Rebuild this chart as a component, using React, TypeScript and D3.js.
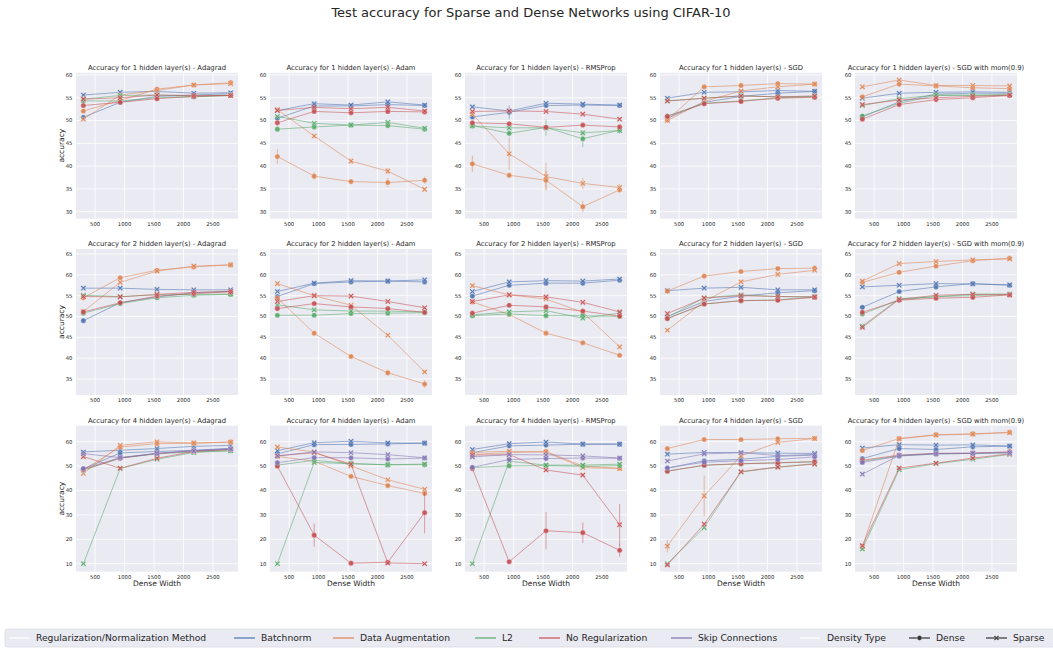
import React from "react";
import * as d3 from "d3";

// dense widths used on every panel
const WIDTHS = [300, 925, 1550, 2175, 2800];
const METHODS = ["Batchnorm", "Data Augmentation", "L2", "No Regularization", "Skip Connections"];
const PALETTE = ["#4c72b0", "#dd8452", "#55a868", "#c44e52", "#8172b3"];
const OPTIMIZERS = ["Adagrad", "Adam", "RMSProp", "SGD", "SGD with mom(0.9)"];
const LAYERS = [1, 2, 4];
const X_TICKS = [500, 1000, 1500, 2000, 2500];
const Y_TICKS = [
  [30, 35, 40, 45, 50, 55, 60],
  [35, 40, 45, 50, 55, 60, 65],
  [10, 20, 30, 40, 50, 60],
];

type Series = [string, "Dense" | "Sparse", number[], number[]?];

// ---- 1 hidden layer ----
const l1Adagrad: Series[] = [
  ["Batchnorm", "Dense", [50.7, 54.0, 55.3, 55.6, 55.9]],
  ["Batchnorm", "Sparse", [55.6, 56.2, 56.4, 56.0, 56.1]],
  ["Data Augmentation", "Dense", [52.1, 54.4, 56.9, 57.8, 58.3], [0.3, 0.3, 0.4, 0.3, 0.4]],
  ["Data Augmentation", "Sparse", [50.3, 55.6, 56.6, 57.8, 58.1]],
  ["L2", "Dense", [54.3, 54.3, 55.0, 55.2, 55.5]],
  ["L2", "Sparse", [54.7, 55.5, 55.6, 55.3, 55.6]],
  ["No Regularization", "Dense", [53.3, 54.0, 54.8, 55.3, 55.5]],
  ["No Regularization", "Sparse", [54.7, 55.0, 55.6, 55.5, 55.5]],
];
const l1Adam: Series[] = [
  ["Batchnorm", "Dense", [50.5, 53.2, 53.2, 53.5, 53.3]],
  ["Batchnorm", "Sparse", [52.2, 53.7, 53.4, 54.1, 53.4]],
  ["Data Augmentation", "Dense", [42.1, 37.8, 36.6, 36.4, 36.9], [1.6, 0.8, 0.5, 1.0, 0.8]],
  ["Data Augmentation", "Sparse", [52.4, 46.6, 41.1, 38.9, 34.9], [0.5, 0.5, 0.6, 0.7, 0.4]],
  ["L2", "Dense", [48.1, 48.6, 49.0, 48.9, 48.1]],
  ["L2", "Sparse", [50.9, 49.4, 49.0, 49.6, 48.3]],
  ["No Regularization", "Dense", [49.5, 52.0, 51.7, 52.0, 51.9]],
  ["No Regularization", "Sparse", [52.2, 52.9, 52.6, 52.9, 52.1]],
];
const l1RMSProp: Series[] = [
  ["Batchnorm", "Dense", [50.8, 51.8, 53.3, 53.4, 53.3], [0.3, 1.5, 0.3, 0.3, 0.3]],
  ["Batchnorm", "Sparse", [53.0, 52.1, 53.8, 53.6, 53.4]],
  ["Data Augmentation", "Dense", [40.5, 38.0, 36.9, 31.1, 34.8], [1.8, 0.7, 2.0, 1.2, 0.6]],
  ["Data Augmentation", "Sparse", [51.4, 42.7, 37.7, 36.2, 35.3], [0.5, 3.5, 3.0, 1.2, 0.8]],
  ["L2", "Dense", [48.9, 47.2, 48.5, 46.0, 47.9], [0.8, 0.7, 1.8, 1.8, 0.8]],
  ["L2", "Sparse", [48.8, 48.4, 48.4, 47.3, 47.8]],
  ["No Regularization", "Dense", [49.5, 49.3, 48.5, 49.0, 48.6]],
  ["No Regularization", "Sparse", [52.0, 52.1, 52.0, 51.4, 50.3]],
];
const l1SGD: Series[] = [
  ["Batchnorm", "Dense", [50.5, 54.0, 55.3, 56.0, 56.4]],
  ["Batchnorm", "Sparse", [54.9, 56.2, 56.3, 56.6, 56.4]],
  ["Data Augmentation", "Dense", [50.1, 57.4, 57.7, 58.1, 58.0]],
  ["Data Augmentation", "Sparse", [50.0, 54.2, 56.5, 57.4, 58.0]],
  ["L2", "Dense", [51.0, 53.8, 54.3, 55.0, 55.3]],
  ["L2", "Sparse", [54.3, 54.9, 55.4, 55.2, 55.2]],
  ["No Regularization", "Dense", [50.9, 53.7, 54.2, 54.9, 55.1]],
  ["No Regularization", "Sparse", [54.3, 54.9, 55.4, 55.2, 55.4]],
];
const l1SGDMom: Series[] = [
  ["Batchnorm", "Dense", [50.8, 54.1, 55.8, 56.0, 56.0]],
  ["Batchnorm", "Sparse", [54.9, 56.0, 56.2, 56.3, 56.2]],
  ["Data Augmentation", "Dense", [55.2, 58.0, 57.6, 57.2, 57.0]],
  ["Data Augmentation", "Sparse", [57.4, 58.9, 57.7, 57.7, 57.6]],
  ["L2", "Dense", [51.0, 53.8, 55.5, 55.6, 55.5]],
  ["L2", "Sparse", [53.3, 54.8, 55.6, 55.5, 55.8]],
  ["No Regularization", "Dense", [50.3, 53.5, 54.6, 55.0, 55.5]],
  ["No Regularization", "Sparse", [53.5, 54.5, 55.0, 55.3, 55.6]],
];

// ---- 2 hidden layers ----
const l2Adagrad: Series[] = [
  ["Batchnorm", "Dense", [49.0, 53.3, 54.7, 55.7, 56.1]],
  ["Batchnorm", "Sparse", [56.8, 56.8, 56.5, 56.4, 56.4]],
  ["Data Augmentation", "Dense", [54.5, 59.3, 61.1, 61.9, 62.4]],
  ["Data Augmentation", "Sparse", [51.2, 58.2, 60.9, 62.1, 62.4]],
  ["L2", "Dense", [50.8, 53.1, 54.5, 55.1, 55.3]],
  ["L2", "Sparse", [55.1, 54.8, 55.2, 55.3, 55.4]],
  ["No Regularization", "Dense", [51.1, 53.3, 54.9, 55.5, 55.9]],
  ["No Regularization", "Sparse", [54.8, 54.7, 55.3, 55.8, 56.0]],
];
const l2Adam: Series[] = [
  ["Batchnorm", "Dense", [54.8, 57.9, 58.3, 58.5, 58.3]],
  ["Batchnorm", "Sparse", [56.0, 58.0, 58.6, 58.5, 58.8]],
  ["Data Augmentation", "Dense", [54.4, 46.0, 40.4, 36.5, 33.8], [0.3, 0.6, 0.5, 0.8, 0.9]],
  ["Data Augmentation", "Sparse", [57.9, 55.0, 52.7, 45.5, 36.7]],
  ["L2", "Dense", [50.3, 50.3, 50.7, 50.8, 50.9]],
  ["L2", "Sparse", [52.8, 51.6, 51.3, 51.3, 51.1]],
  ["No Regularization", "Dense", [51.9, 53.1, 52.3, 51.9, 51.0]],
  ["No Regularization", "Sparse", [53.6, 55.0, 54.9, 53.6, 52.1]],
];
const l2RMSProp: Series[] = [
  ["Batchnorm", "Dense", [54.9, 57.5, 58.0, 58.0, 58.7]],
  ["Batchnorm", "Sparse", [56.0, 58.3, 58.6, 58.5, 59.0]],
  ["Data Augmentation", "Dense", [53.5, 50.5, 46.0, 43.7, 40.7]],
  ["Data Augmentation", "Sparse", [57.4, 55.2, 54.2, 51.0, 42.7]],
  ["L2", "Dense", [50.2, 50.6, 50.2, 50.2, 50.0]],
  ["L2", "Sparse", [50.4, 51.1, 51.4, 49.6, 50.8]],
  ["No Regularization", "Dense", [50.8, 52.7, 52.3, 51.3, 50.1]],
  ["No Regularization", "Sparse", [53.6, 55.2, 54.7, 53.4, 51.1]],
];
const l2SGD: Series[] = [
  ["Batchnorm", "Dense", [50.0, 53.6, 54.9, 55.7, 56.2]],
  ["Batchnorm", "Sparse", [56.2, 56.8, 57.0, 56.4, 56.4]],
  ["Data Augmentation", "Dense", [56.1, 59.7, 60.8, 61.5, 61.6]],
  ["Data Augmentation", "Sparse", [46.7, 53.6, 58.3, 60.1, 61.1]],
  ["L2", "Dense", [49.5, 53.0, 53.8, 54.0, 54.7]],
  ["L2", "Sparse", [49.8, 54.5, 55.2, 54.8, 54.7]],
  ["No Regularization", "Dense", [49.5, 53.0, 53.8, 53.9, 54.6]],
  ["No Regularization", "Sparse", [50.7, 54.4, 55.0, 54.8, 54.7]],
];
const l2SGDMom: Series[] = [
  ["Batchnorm", "Dense", [52.2, 56.0, 57.1, 57.9, 57.5]],
  ["Batchnorm", "Sparse", [57.1, 57.5, 57.9, 57.8, 57.6]],
  ["Data Augmentation", "Dense", [58.2, 60.6, 62.1, 63.4, 64.0]],
  ["Data Augmentation", "Sparse", [58.5, 62.7, 63.2, 63.6, 63.8]],
  ["L2", "Dense", [50.6, 54.0, 54.8, 55.0, 55.3]],
  ["L2", "Sparse", [47.7, 54.3, 54.7, 55.4, 55.4]],
  ["No Regularization", "Dense", [51.0, 53.9, 54.4, 54.6, 55.2]],
  ["No Regularization", "Sparse", [47.4, 54.1, 55.1, 55.3, 55.2]],
];

// ---- 4 hidden layers ----
const l4Adagrad: Series[] = [
  ["Batchnorm", "Dense", [48.9, 55.4, 56.0, 56.5, 57.3]],
  ["Batchnorm", "Sparse", [55.8, 56.5, 57.2, 58.1, 58.5]],
  ["Data Augmentation", "Dense", [48.5, 57.8, 59.2, 59.4, 59.9]],
  ["Data Augmentation", "Sparse", [47.0, 58.5, 60.0, 59.4, 59.8]],
  ["L2", "Dense", [48.3, 53.3, 55.0, 55.8, 56.3]],
  ["L2", "Sparse", [10.0, 49.0, 52.8, 55.6, 56.3]],
  ["No Regularization", "Dense", [48.6, 53.2, 55.2, 56.2, 56.8]],
  ["No Regularization", "Sparse", [53.9, 49.1, 53.2, 56.0, 56.9]],
  ["Skip Connections", "Dense", [49.0, 53.5, 55.2, 56.4, 57.1]],
  ["Skip Connections", "Sparse", [55.1, 53.5, 55.2, 56.2, 57.0]],
];
const l4Adam: Series[] = [
  ["Batchnorm", "Dense", [55.0, 58.8, 58.9, 59.1, 59.4]],
  ["Batchnorm", "Sparse", [56.3, 59.6, 60.2, 59.5, 59.4]],
  ["Data Augmentation", "Dense", [54.0, 52.0, 45.8, 42.0, 38.8], [0.3, 0.3, 0.6, 0.5, 0.9]],
  ["Data Augmentation", "Sparse", [57.8, 55.8, 50.1, 44.4, 40.5]],
  ["L2", "Dense", [50.4, 52.4, 51.0, 50.5, 50.6]],
  ["L2", "Sparse", [10.0, 51.5, 51.0, 50.6, 50.8]],
  ["No Regularization", "Dense", [50.0, 21.7, 10.2, 10.6, 30.9], [0.4, 4.7, 0.3, 0.5, 8.5]],
  ["No Regularization", "Sparse", [54.2, 55.5, 50.8, 10.3, 10.0]],
  ["Skip Connections", "Dense", [51.4, 53.5, 53.4, 52.9, 53.3]],
  ["Skip Connections", "Sparse", [54.2, 55.8, 55.5, 54.7, 53.4]],
];
const l4RMSProp: Series[] = [
  ["Batchnorm", "Dense", [55.5, 58.3, 58.6, 59.0, 59.0]],
  ["Batchnorm", "Sparse", [56.8, 59.2, 59.9, 59.0, 59.0]],
  ["Data Augmentation", "Dense", [54.8, 55.5, 56.0, 50.0, 49.1]],
  ["Data Augmentation", "Sparse", [55.6, 56.1, 55.7, 49.4, 49.0]],
  ["L2", "Dense", [49.4, 50.1, 50.2, 49.9, 50.2], [0.3, 0.4, 0.4, 0.8, 0.8]],
  ["L2", "Sparse", [10.0, 52.0, 50.4, 50.4, 50.8]],
  ["No Regularization", "Dense", [49.0, 10.8, 23.5, 22.7, 15.5], [0.3, 0.5, 7.7, 4.2, 2.7]],
  ["No Regularization", "Sparse", [54.5, 54.7, 48.4, 46.3, 26.0], [0.3, 0.3, 0.5, 0.5, 8.4]],
  ["Skip Connections", "Dense", [49.5, 52.7, 53.1, 53.3, 53.2]],
  ["Skip Connections", "Sparse", [53.8, 54.7, 54.6, 54.2, 53.3]],
];
const l4SGD: Series[] = [
  ["Batchnorm", "Dense", [49.2, 52.2, 52.8, 54.0, 54.5]],
  ["Batchnorm", "Sparse", [54.9, 55.6, 55.5, 55.3, 55.2]],
  ["Data Augmentation", "Dense", [57.2, 60.9, 60.9, 61.2, 61.4]],
  ["Data Augmentation", "Sparse", [17.2, 37.8, 54.2, 59.7, 61.3], [2.6, 8.3, 0.4, 0.4, 0.3]],
  ["L2", "Dense", [48.0, 50.3, 50.9, 51.4, 51.8]],
  ["L2", "Sparse", [10.0, 24.8, 47.6, 49.6, 51.0]],
  ["No Regularization", "Dense", [47.9, 50.4, 51.0, 51.3, 51.8]],
  ["No Regularization", "Sparse", [9.5, 26.2, 47.7, 49.6, 50.8]],
  ["Skip Connections", "Dense", [49.2, 51.6, 52.2, 52.7, 53.8]],
  ["Skip Connections", "Sparse", [52.1, 55.0, 55.5, 54.3, 54.8]],
];
const l4SGDMom: Series[] = [
  ["Batchnorm", "Dense", [53.1, 57.2, 56.8, 57.9, 58.2]],
  ["Batchnorm", "Sparse", [57.4, 58.8, 58.6, 58.7, 58.2]],
  ["Data Augmentation", "Dense", [56.4, 61.3, 62.9, 63.2, 63.9]],
  ["Data Augmentation", "Sparse", [17.0, 61.2, 62.7, 63.1, 63.7]],
  ["L2", "Dense", [52.0, 54.2, 55.0, 55.2, 55.5]],
  ["L2", "Sparse", [16.0, 48.5, 51.0, 52.8, 54.8]],
  ["No Regularization", "Dense", [52.4, 54.5, 55.2, 55.3, 55.9]],
  ["No Regularization", "Sparse", [17.4, 49.2, 51.2, 53.3, 55.0]],
  ["Skip Connections", "Dense", [51.5, 54.1, 55.0, 55.2, 55.5]],
  ["Skip Connections", "Sparse", [46.7, 54.4, 55.2, 55.3, 55.5]],
];

const PANELS: Series[][][] = [
  [l1Adagrad, l1Adam, l1RMSProp, l1SGD, l1SGDMom],
  [l2Adagrad, l2Adam, l2RMSProp, l2SGD, l2SGDMom],
  [l4Adagrad, l4Adam, l4RMSProp, l4SGD, l4SGDMom],
];

// layout
const W = 1053;
const H = 649;
const COL_X = [76, 270, 465, 660, 855];
const ROW_Y = [72.7, 249, 425.7];
const PW = 162;
const PH = 146;
const Y_DOMAINS = [[28.46, 60.5], [31.16, 66.2], [6.72, 66.56]];
const FONT = "DejaVu Sans, sans-serif";
const INK = "#262626";

const colorOf = (m: string) => PALETTE[METHODS.indexOf(m)];

function xMarker(cx: number, cy: number, h: number) {
  const c = 0.38;
  const pts = [[0, -c], [1 - c, -1], [1, -1 + c], [c, 0], [1, 1 - c], [1 - c, 1], [0, c], [-1 + c, 1], [-1, 1 - c], [-c, 0], [-1, -1 + c], [-1 + c, -1]];
  return "M" + pts.map(([x, y]) => `${cx + x * h},${cy + y * h}`).join("L") + "Z";
}

const Panel = ({ series, row, col }: { series: Series[]; row: number; col: number }) => {
  const x0 = COL_X[col];
  const y0 = ROW_Y[row];
  const x = d3.scaleLinear().domain([175, 2925]).range([0, PW]);
  const y = d3.scaleLinear().domain(Y_DOMAINS[row]).range([PH, 0]);
  const line = d3.line<number>().x((_, i) => x(WIDTHS[i])).y(d => y(d));
  const title = `Accuracy for ${LAYERS[row]} hidden layer(s) - ${OPTIMIZERS[col]}`;

  return (
    <g transform={`translate(${x0},${y0})`}>
      <rect width={PW} height={PH} fill="#eaeaf2" />
      {X_TICKS.map(t => (
        <line key={"gx" + t} x1={x(t)} x2={x(t)} y1={0} y2={PH} stroke="#fff" strokeWidth={0.8} />
      ))}
      {Y_TICKS[row].map(t => (
        <line key={"gy" + t} x1={0} x2={PW} y1={y(t)} y2={y(t)} stroke="#fff" strokeWidth={0.8} />
      ))}
      {X_TICKS.map(t => (
        <text key={"tx" + t} x={x(t)} y={PH + 7} fontSize={5.3} textAnchor="middle" fill={INK} fontFamily={FONT}>{t}</text>
      ))}
      {Y_TICKS[row].map(t => (
        <text key={"ty" + t} x={-3.5} y={y(t) + 1.9} fontSize={5.3} textAnchor="end" fill={INK} fontFamily={FONT}>{t}</text>
      ))}
      <text x={PW / 2} y={-3} fontSize={6.8} textAnchor="middle" fill={INK} fontFamily={FONT}>{title}</text>
      {series.map(([method, density, vals, err], si) => {
        const c = colorOf(method);
        return (
          <g key={si}>
            {err && vals.map((v, i) => err[i] > 0 && (
              <line key={"e" + i} x1={x(WIDTHS[i])} x2={x(WIDTHS[i])} y1={y(v - err[i])} y2={y(v + err[i])}
                stroke={c} strokeOpacity={0.5} strokeWidth={1} />
            ))}
            <path d={line(vals) || ""} fill="none" stroke={c} strokeOpacity={0.55} strokeWidth={1} />
            {vals.map((v, i) =>
              density === "Dense" ? (
                <circle key={i} cx={x(WIDTHS[i])} cy={y(v)} r={2.6} fill={c} fillOpacity={0.9} stroke="#fff" strokeWidth={0.3} />
              ) : (
                <path key={i} d={xMarker(x(WIDTHS[i]), y(v), 2.8)} fill={c} fillOpacity={0.9} stroke="#fff" strokeWidth={0.3} />
              )
            )}
          </g>
        );
      })}
    </g>
  );
};

const LEGEND_ITEMS = [
  "Regularization/Normalization Method", "Batchnorm", "Data Augmentation", "L2",
  "No Regularization", "Skip Connections", "Density Type", "Dense", "Sparse",
];
// text start of each legend entry; handle sits just left of it
const LEGEND_TEXT_X = [36, 261, 360, 502, 566, 698, 827, 936, 1013];

const Legend = () => (
  <g>
    <rect x={5} y={629} width={1060} height={18} rx={2} fill="#eaeaf2" stroke="#dcdce6" strokeWidth={0.8} />
    {LEGEND_ITEMS.map((label, i) => {
      const tx = LEGEND_TEXT_X[i];
      const hx = tx - 27;
      const cy = 638;
      let handle: React.ReactNode;
      if (i === 0 || i === 6) {
        handle = <line x1={hx} x2={hx + 20} y1={cy} y2={cy} stroke="#fff" strokeWidth={1.2} />;
      } else if (i === 7) {
        handle = (
          <g>
            <line x1={hx} x2={hx + 21} y1={cy} y2={cy} stroke="#333" strokeWidth={1.2} />
            <circle cx={hx + 10.5} cy={cy} r={2.4} fill="#333" stroke="#fff" strokeWidth={0.3} />
          </g>
        );
      } else if (i === 8) {
        handle = (
          <g>
            <line x1={hx} x2={hx + 21} y1={cy} y2={cy} stroke="#333" strokeWidth={1.2} />
            <path d={xMarker(hx + 10.5, cy, 2.6)} fill="#333" stroke="#fff" strokeWidth={0.3} />
          </g>
        );
      } else {
        handle = <line x1={hx} x2={hx + 21} y1={cy} y2={cy} stroke={colorOf(label)} strokeWidth={1.2} />;
      }
      return (
        <g key={label}>
          {handle}
          <text x={tx} y={cy + 3.4} fontSize={9.2} fill={INK} fontFamily={FONT}>{label}</text>
        </g>
      );
    })}
  </g>
);

export default function App() {
  return (
    <svg width={W} height={H} style={{ position: "absolute", left: 0, top: 0, background: "#fff" }}>
      <rect width={W} height={H} fill="#fff" />
      <text x={531} y={17} fontSize={13} textAnchor="middle" fill={INK} fontFamily={FONT}>
        Test accuracy for Sparse and Dense Networks using CIFAR-10
      </text>
      {PANELS.map((rowPanels, r) =>
        rowPanels.map((s, c) => <Panel key={`${r}-${c}`} series={s} row={r} col={c} />)
      )}
      {ROW_Y.map((ry, r) => (
        <text key={"yl" + r} transform={`translate(${COL_X[0] - 12},${ry + PH / 2}) rotate(-90)`}
          fontSize={7.5} textAnchor="middle" fill={INK} fontFamily={FONT}>accuracy</text>
      ))}
      {COL_X.map((cx, c) => (
        <text key={"xl" + c} x={cx + PW / 2} y={ROW_Y[2] + PH + 14.5} fontSize={7.5} textAnchor="middle" fill={INK} fontFamily={FONT}>
          Dense Width
        </text>
      ))}
      <Legend />
    </svg>
  );
}
